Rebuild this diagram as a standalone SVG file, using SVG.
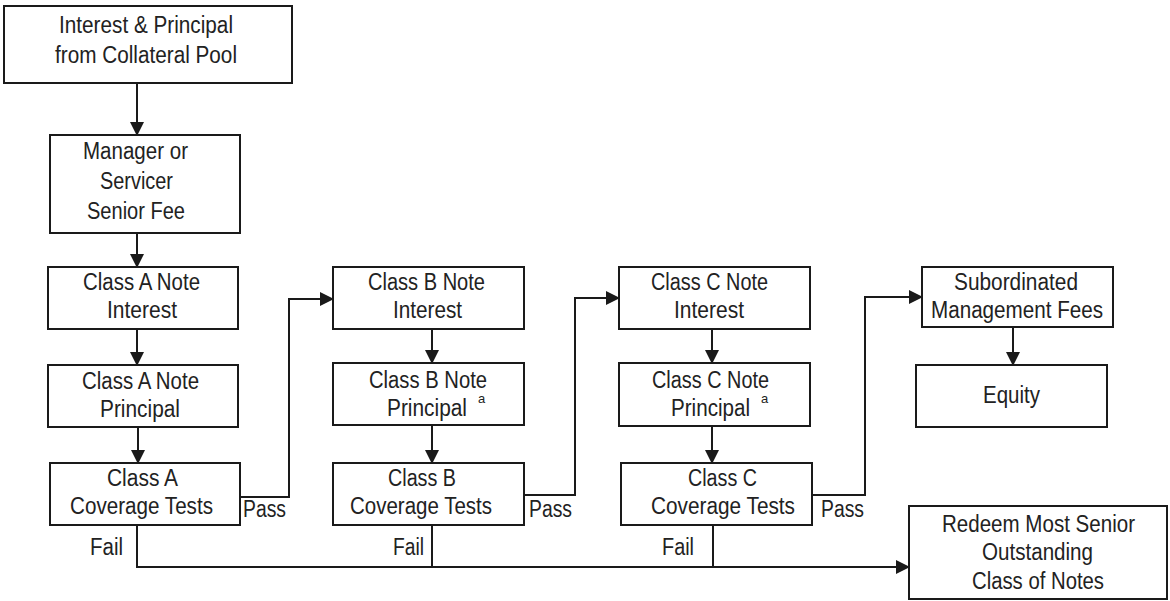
<svg xmlns="http://www.w3.org/2000/svg" width="1170" height="601" viewBox="0 0 1170 601">
  <style>
    .box { fill: #fff; stroke: #1a1a1a; stroke-width: 2; }
    .lbl { font-family: "Liberation Sans", Arial, sans-serif; font-size: 23.5px; fill: #222; }
    .sup { font-family: "Liberation Sans", Arial, sans-serif; font-size: 13px; fill: #222; }
    .wire { fill: none; stroke: #1a1a1a; stroke-width: 2; }
  </style>
  <defs>
    <marker id="arrow" markerUnits="userSpaceOnUse" markerWidth="14" markerHeight="14" refX="13" refY="7" orient="auto">
      <path d="M0,0 L14,7 L0,14 Z" fill="#1a1a1a"/>
    </marker>
  </defs>
  <rect width="1170" height="601" fill="#fff"/>

  <!-- connectors -->
  <g id="connectors" class="wire">
    <path d="M137,83 V135" marker-end="url(#arrow)"/>
    <path d="M137,233 V267" marker-end="url(#arrow)"/>
    <path d="M137,329 V365" marker-end="url(#arrow)"/>
    <path d="M138,427 V463" marker-end="url(#arrow)"/>
    <path d="M240,497 H289 V299 H333" marker-end="url(#arrow)"/>
    <path d="M432,329 V363" marker-end="url(#arrow)"/>
    <path d="M432,425 V463" marker-end="url(#arrow)"/>
    <path d="M524,495 H575 V298 H619" marker-end="url(#arrow)"/>
    <path d="M712,329 V363" marker-end="url(#arrow)"/>
    <path d="M712,426 V463" marker-end="url(#arrow)"/>
    <path d="M812,495 H865 V297 H922" marker-end="url(#arrow)"/>
    <path d="M1013,327 V365" marker-end="url(#arrow)"/>
    <path d="M137,525 V567 H909" marker-end="url(#arrow)"/>
    <path d="M432,525 V567"/>
    <path d="M713,525 V567"/>
  </g>

  <!-- edge labels -->
  <g id="edge-labels" class="lbl">
    <text x="243" y="517" textLength="43" lengthAdjust="spacingAndGlyphs">Pass</text>
    <text x="529" y="517" textLength="43" lengthAdjust="spacingAndGlyphs">Pass</text>
    <text x="821" y="517" textLength="43" lengthAdjust="spacingAndGlyphs">Pass</text>
    <text x="90" y="555" textLength="33" lengthAdjust="spacingAndGlyphs">Fail</text>
    <text x="393" y="555" textLength="31" lengthAdjust="spacingAndGlyphs">Fail</text>
    <text x="662" y="555" textLength="32" lengthAdjust="spacingAndGlyphs">Fail</text>
  </g>

  <g id="collateral-pool">
    <rect class="box" x="4" y="6" width="288" height="77"/>
    <text class="lbl" x="59" y="33" textLength="174" lengthAdjust="spacingAndGlyphs">Interest &amp; Principal</text>
    <text class="lbl" x="55" y="63" textLength="182" lengthAdjust="spacingAndGlyphs">from Collateral Pool</text>
  </g>

  <g id="senior-fee">
    <rect class="box" x="50" y="135" width="190" height="98"/>
    <text class="lbl" x="83" y="159" textLength="105" lengthAdjust="spacingAndGlyphs">Manager or</text>
    <text class="lbl" x="100" y="189" textLength="73" lengthAdjust="spacingAndGlyphs">Servicer</text>
    <text class="lbl" x="87" y="219" textLength="98" lengthAdjust="spacingAndGlyphs">Senior Fee</text>
  </g>

  <g id="class-a-interest">
    <rect class="box" x="48" y="267" width="190" height="62"/>
    <text class="lbl" x="83" y="290" textLength="117" lengthAdjust="spacingAndGlyphs">Class A Note</text>
    <text class="lbl" x="107" y="318" textLength="70" lengthAdjust="spacingAndGlyphs">Interest</text>
  </g>

  <g id="class-a-principal">
    <rect class="box" x="48" y="365" width="190" height="62"/>
    <text class="lbl" x="82" y="389" textLength="117" lengthAdjust="spacingAndGlyphs">Class A Note</text>
    <text class="lbl" x="100" y="417" textLength="80" lengthAdjust="spacingAndGlyphs">Principal</text>
  </g>

  <g id="class-a-coverage">
    <rect class="box" x="50" y="463" width="190" height="62"/>
    <text class="lbl" x="107" y="486" textLength="71" lengthAdjust="spacingAndGlyphs">Class A</text>
    <text class="lbl" x="70" y="514" textLength="143" lengthAdjust="spacingAndGlyphs">Coverage Tests</text>
  </g>

  <g id="class-b-interest">
    <rect class="box" x="333" y="267" width="191" height="62"/>
    <text class="lbl" x="368" y="290" textLength="117" lengthAdjust="spacingAndGlyphs">Class B Note</text>
    <text class="lbl" x="393" y="318" textLength="69" lengthAdjust="spacingAndGlyphs">Interest</text>
  </g>

  <g id="class-b-principal">
    <rect class="box" x="333" y="363" width="191" height="62"/>
    <text class="lbl" x="369" y="388" textLength="118" lengthAdjust="spacingAndGlyphs">Class B Note</text>
    <text class="lbl" x="387" y="416" textLength="80" lengthAdjust="spacingAndGlyphs">Principal</text>
    <text class="sup" x="478" y="403">a</text>
  </g>

  <g id="class-b-coverage">
    <rect class="box" x="333" y="463" width="191" height="62"/>
    <text class="lbl" x="388" y="486" textLength="68" lengthAdjust="spacingAndGlyphs">Class B</text>
    <text class="lbl" x="350" y="514" textLength="142" lengthAdjust="spacingAndGlyphs">Coverage Tests</text>
  </g>

  <g id="class-c-interest">
    <rect class="box" x="619" y="267" width="191" height="62"/>
    <text class="lbl" x="651" y="290" textLength="117" lengthAdjust="spacingAndGlyphs">Class C Note</text>
    <text class="lbl" x="674" y="318" textLength="70" lengthAdjust="spacingAndGlyphs">Interest</text>
  </g>

  <g id="class-c-principal">
    <rect class="box" x="619" y="363" width="191" height="63"/>
    <text class="lbl" x="652" y="388" textLength="117" lengthAdjust="spacingAndGlyphs">Class C Note</text>
    <text class="lbl" x="671" y="416" textLength="79" lengthAdjust="spacingAndGlyphs">Principal</text>
    <text class="sup" x="761" y="403">a</text>
  </g>

  <g id="class-c-coverage">
    <rect class="box" x="621" y="463" width="191" height="62"/>
    <text class="lbl" x="688" y="486" textLength="69" lengthAdjust="spacingAndGlyphs">Class C</text>
    <text class="lbl" x="651" y="514" textLength="144" lengthAdjust="spacingAndGlyphs">Coverage Tests</text>
  </g>

  <g id="subordinated-fees">
    <rect class="box" x="922" y="267" width="191" height="60"/>
    <text class="lbl" x="954" y="290" textLength="124" lengthAdjust="spacingAndGlyphs">Subordinated</text>
    <text class="lbl" x="931" y="318" textLength="172" lengthAdjust="spacingAndGlyphs">Management Fees</text>
  </g>

  <g id="equity">
    <rect class="box" x="916" y="365" width="191" height="62"/>
    <text class="lbl" x="983" y="403" textLength="57" lengthAdjust="spacingAndGlyphs">Equity</text>
  </g>

  <g id="redeem-notes">
    <rect class="box" x="909" y="506" width="258" height="93"/>
    <text class="lbl" x="942" y="532" textLength="193" lengthAdjust="spacingAndGlyphs">Redeem Most Senior</text>
    <text class="lbl" x="982" y="560" textLength="111" lengthAdjust="spacingAndGlyphs">Outstanding</text>
    <text class="lbl" x="972" y="589" textLength="132" lengthAdjust="spacingAndGlyphs">Class of Notes</text>
  </g>
</svg>
